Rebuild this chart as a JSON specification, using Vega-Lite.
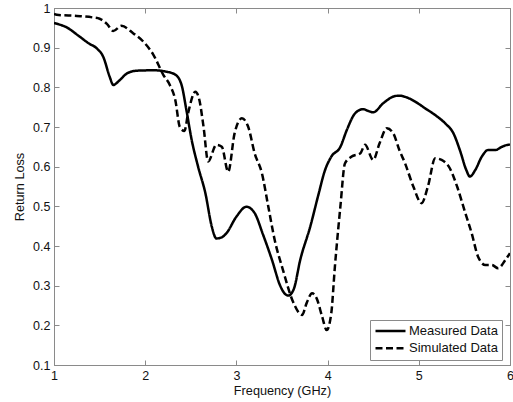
{
  "$schema": "https://vega.github.io/schema/vega-lite/v6.json",
  "width": 456,
  "height": 357,
  "autosize": {"type": "none"},
  "padding": {"left": 54, "top": 8, "right": 3, "bottom": 37},
  "background": "white",
  "config": {
    "view": {"stroke": "#8a8a8a", "strokeWidth": 1},
    "font": "Liberation Sans",
    "axis": {
      "domainColor": "#8a8a8a",
      "tickColor": "#8a8a8a",
      "grid": false,
      "labelFont": "Liberation Sans",
      "labelFontSize": 12.5,
      "labelColor": "#111111",
      "titleFont": "Liberation Sans",
      "titleFontSize": 12.7,
      "titleFontWeight": "normal",
      "titleColor": "#111111"
    }
  },
  "data": {"values": [
    {"f": 1.00, "rl": 0.962, "s": "Measured Data"},
    {"f": 1.14, "rl": 0.951, "s": "Measured Data"},
    {"f": 1.28, "rl": 0.928, "s": "Measured Data"},
    {"f": 1.38, "rl": 0.911, "s": "Measured Data"},
    {"f": 1.47, "rl": 0.898, "s": "Measured Data"},
    {"f": 1.54, "rl": 0.877, "s": "Measured Data"},
    {"f": 1.61, "rl": 0.827, "s": "Measured Data"},
    {"f": 1.65, "rl": 0.806, "s": "Measured Data"},
    {"f": 1.72, "rl": 0.818, "s": "Measured Data"},
    {"f": 1.80, "rl": 0.835, "s": "Measured Data"},
    {"f": 1.91, "rl": 0.842, "s": "Measured Data"},
    {"f": 2.10, "rl": 0.843, "s": "Measured Data"},
    {"f": 2.22, "rl": 0.840, "s": "Measured Data"},
    {"f": 2.33, "rl": 0.832, "s": "Measured Data"},
    {"f": 2.40, "rl": 0.805, "s": "Measured Data"},
    {"f": 2.45, "rl": 0.745, "s": "Measured Data"},
    {"f": 2.51, "rl": 0.667, "s": "Measured Data"},
    {"f": 2.58, "rl": 0.600, "s": "Measured Data"},
    {"f": 2.66, "rl": 0.533, "s": "Measured Data"},
    {"f": 2.73, "rl": 0.449, "s": "Measured Data"},
    {"f": 2.78, "rl": 0.419, "s": "Measured Data"},
    {"f": 2.84, "rl": 0.422, "s": "Measured Data"},
    {"f": 2.89, "rl": 0.432, "s": "Measured Data"},
    {"f": 3.00, "rl": 0.474, "s": "Measured Data"},
    {"f": 3.11, "rl": 0.499, "s": "Measured Data"},
    {"f": 3.20, "rl": 0.483, "s": "Measured Data"},
    {"f": 3.29, "rl": 0.430, "s": "Measured Data"},
    {"f": 3.39, "rl": 0.365, "s": "Measured Data"},
    {"f": 3.48, "rl": 0.300, "s": "Measured Data"},
    {"f": 3.53, "rl": 0.280, "s": "Measured Data"},
    {"f": 3.57, "rl": 0.275, "s": "Measured Data"},
    {"f": 3.63, "rl": 0.292, "s": "Measured Data"},
    {"f": 3.70, "rl": 0.365, "s": "Measured Data"},
    {"f": 3.81, "rl": 0.449, "s": "Measured Data"},
    {"f": 3.90, "rl": 0.530, "s": "Measured Data"},
    {"f": 3.97, "rl": 0.590, "s": "Measured Data"},
    {"f": 4.04, "rl": 0.625, "s": "Measured Data"},
    {"f": 4.14, "rl": 0.650, "s": "Measured Data"},
    {"f": 4.21, "rl": 0.692, "s": "Measured Data"},
    {"f": 4.30, "rl": 0.734, "s": "Measured Data"},
    {"f": 4.39, "rl": 0.745, "s": "Measured Data"},
    {"f": 4.45, "rl": 0.740, "s": "Measured Data"},
    {"f": 4.50, "rl": 0.737, "s": "Measured Data"},
    {"f": 4.61, "rl": 0.760, "s": "Measured Data"},
    {"f": 4.74, "rl": 0.778, "s": "Measured Data"},
    {"f": 4.79, "rl": 0.779, "s": "Measured Data"},
    {"f": 4.85, "rl": 0.776, "s": "Measured Data"},
    {"f": 4.96, "rl": 0.764, "s": "Measured Data"},
    {"f": 5.07, "rl": 0.747, "s": "Measured Data"},
    {"f": 5.18, "rl": 0.730, "s": "Measured Data"},
    {"f": 5.29, "rl": 0.709, "s": "Measured Data"},
    {"f": 5.38, "rl": 0.684, "s": "Measured Data"},
    {"f": 5.45, "rl": 0.642, "s": "Measured Data"},
    {"f": 5.52, "rl": 0.592, "s": "Measured Data"},
    {"f": 5.56, "rl": 0.575, "s": "Measured Data"},
    {"f": 5.62, "rl": 0.592, "s": "Measured Data"},
    {"f": 5.69, "rl": 0.625, "s": "Measured Data"},
    {"f": 5.76, "rl": 0.642, "s": "Measured Data"},
    {"f": 5.84, "rl": 0.642, "s": "Measured Data"},
    {"f": 5.91, "rl": 0.650, "s": "Measured Data"},
    {"f": 5.98, "rl": 0.655, "s": "Measured Data"},
    {"f": 6.00, "rl": 0.655, "s": "Measured Data"},
    {"f": 1.00, "rl": 0.985, "s": "Simulated Data"},
    {"f": 1.03, "rl": 0.983, "s": "Simulated Data"},
    {"f": 1.25, "rl": 0.980, "s": "Simulated Data"},
    {"f": 1.43, "rl": 0.976, "s": "Simulated Data"},
    {"f": 1.50, "rl": 0.973, "s": "Simulated Data"},
    {"f": 1.58, "rl": 0.960, "s": "Simulated Data"},
    {"f": 1.65, "rl": 0.942, "s": "Simulated Data"},
    {"f": 1.74, "rl": 0.955, "s": "Simulated Data"},
    {"f": 1.87, "rl": 0.936, "s": "Simulated Data"},
    {"f": 1.98, "rl": 0.915, "s": "Simulated Data"},
    {"f": 2.09, "rl": 0.882, "s": "Simulated Data"},
    {"f": 2.20, "rl": 0.831, "s": "Simulated Data"},
    {"f": 2.27, "rl": 0.806, "s": "Simulated Data"},
    {"f": 2.33, "rl": 0.768, "s": "Simulated Data"},
    {"f": 2.38, "rl": 0.700, "s": "Simulated Data"},
    {"f": 2.43, "rl": 0.690, "s": "Simulated Data"},
    {"f": 2.47, "rl": 0.734, "s": "Simulated Data"},
    {"f": 2.55, "rl": 0.789, "s": "Simulated Data"},
    {"f": 2.59, "rl": 0.772, "s": "Simulated Data"},
    {"f": 2.64, "rl": 0.700, "s": "Simulated Data"},
    {"f": 2.69, "rl": 0.613, "s": "Simulated Data"},
    {"f": 2.78, "rl": 0.655, "s": "Simulated Data"},
    {"f": 2.84, "rl": 0.650, "s": "Simulated Data"},
    {"f": 2.91, "rl": 0.587, "s": "Simulated Data"},
    {"f": 2.98, "rl": 0.684, "s": "Simulated Data"},
    {"f": 3.06, "rl": 0.722, "s": "Simulated Data"},
    {"f": 3.13, "rl": 0.700, "s": "Simulated Data"},
    {"f": 3.20, "rl": 0.634, "s": "Simulated Data"},
    {"f": 3.28, "rl": 0.583, "s": "Simulated Data"},
    {"f": 3.35, "rl": 0.499, "s": "Simulated Data"},
    {"f": 3.42, "rl": 0.415, "s": "Simulated Data"},
    {"f": 3.51, "rl": 0.340, "s": "Simulated Data"},
    {"f": 3.62, "rl": 0.260, "s": "Simulated Data"},
    {"f": 3.72, "rl": 0.226, "s": "Simulated Data"},
    {"f": 3.77, "rl": 0.256, "s": "Simulated Data"},
    {"f": 3.83, "rl": 0.281, "s": "Simulated Data"},
    {"f": 3.88, "rl": 0.268, "s": "Simulated Data"},
    {"f": 3.94, "rl": 0.222, "s": "Simulated Data"},
    {"f": 3.99, "rl": 0.188, "s": "Simulated Data"},
    {"f": 4.04, "rl": 0.230, "s": "Simulated Data"},
    {"f": 4.08, "rl": 0.348, "s": "Simulated Data"},
    {"f": 4.14, "rl": 0.499, "s": "Simulated Data"},
    {"f": 4.19, "rl": 0.608, "s": "Simulated Data"},
    {"f": 4.26, "rl": 0.625, "s": "Simulated Data"},
    {"f": 4.36, "rl": 0.634, "s": "Simulated Data"},
    {"f": 4.41, "rl": 0.655, "s": "Simulated Data"},
    {"f": 4.50, "rl": 0.617, "s": "Simulated Data"},
    {"f": 4.57, "rl": 0.659, "s": "Simulated Data"},
    {"f": 4.65, "rl": 0.697, "s": "Simulated Data"},
    {"f": 4.72, "rl": 0.684, "s": "Simulated Data"},
    {"f": 4.79, "rl": 0.640, "s": "Simulated Data"},
    {"f": 4.85, "rl": 0.608, "s": "Simulated Data"},
    {"f": 4.94, "rl": 0.550, "s": "Simulated Data"},
    {"f": 5.03, "rl": 0.508, "s": "Simulated Data"},
    {"f": 5.10, "rl": 0.550, "s": "Simulated Data"},
    {"f": 5.18, "rl": 0.621, "s": "Simulated Data"},
    {"f": 5.25, "rl": 0.617, "s": "Simulated Data"},
    {"f": 5.34, "rl": 0.596, "s": "Simulated Data"},
    {"f": 5.42, "rl": 0.550, "s": "Simulated Data"},
    {"f": 5.51, "rl": 0.483, "s": "Simulated Data"},
    {"f": 5.58, "rl": 0.432, "s": "Simulated Data"},
    {"f": 5.65, "rl": 0.373, "s": "Simulated Data"},
    {"f": 5.73, "rl": 0.352, "s": "Simulated Data"},
    {"f": 5.80, "rl": 0.352, "s": "Simulated Data"},
    {"f": 5.87, "rl": 0.344, "s": "Simulated Data"},
    {"f": 5.95, "rl": 0.365, "s": "Simulated Data"},
    {"f": 6.00, "rl": 0.382, "s": "Simulated Data"}
  ]},
  "layer": [
    {
      "mark": {"type": "line", "color": "black", "strokeWidth": 2.5, "interpolate": "monotone", "clip": true},
      "encoding": {
        "x": {"field": "f", "type": "quantitative",
              "scale": {"domain": [1, 6], "nice": false, "zero": false},
              "axis": {"orient": "bottom", "values": [1, 2, 3, 4, 5, 6], "format": "d", "tickSize": -5, "labelPadding": 9, "title": "Frequency (GHz)", "titlePadding": 3, "labelFlush": false}},
        "y": {"field": "rl", "type": "quantitative",
              "scale": {"domain": [0.1, 1], "nice": false, "zero": false},
              "axis": {"orient": "left", "values": [0.1, 0.2, 0.3, 0.4, 0.5, 0.6, 0.7, 0.8, 0.9, 1], "format": "~g", "tickSize": -5, "labelPadding": 9, "title": "Return Loss", "titlePadding": 6, "labelFlush": false}},
        "strokeDash": {"field": "s", "type": "nominal",
              "scale": {"domain": ["Measured Data", "Simulated Data"], "range": [[1, 0], [7, 3.5]]},
              "legend": {"title": null, "orient": "none", "legendX": 316, "legendY": 312,
                         "symbolType": "stroke", "symbolSize": 900, "symbolStrokeWidth": 2.5, "symbolStrokeColor": "black",
                         "labelFont": "Liberation Sans", "labelFontSize": 13, "labelColor": "#111111", "labelOffset": 2,
                         "strokeColor": "#8a8a8a", "fillColor": "white", "padding": 4, "clipHeight": 14, "rowPadding": 3.3}}
      }
    },
    {
      "mark": {"type": "line", "strokeOpacity": 0},
      "encoding": {
        "x": {"field": "f", "type": "quantitative",
              "axis": {"orient": "top", "values": [1, 2, 3, 4, 5, 6], "labels": false, "tickSize": -5, "title": null}},
        "y": {"field": "rl", "type": "quantitative",
              "axis": {"orient": "right", "values": [0.1, 0.2, 0.3, 0.4, 0.5, 0.6, 0.7, 0.8, 0.9, 1], "labels": false, "tickSize": -5, "title": null}},
        "detail": {"field": "s"}
      }
    }
  ],
  "resolve": {"axis": {"x": "independent", "y": "independent"}}
}
